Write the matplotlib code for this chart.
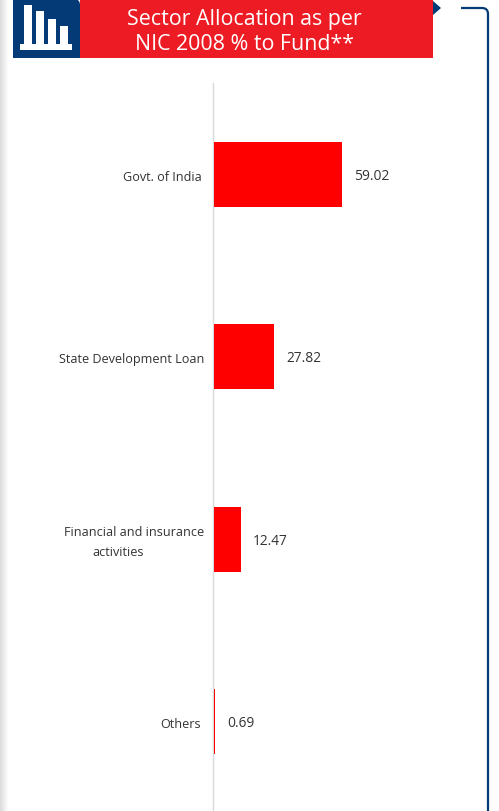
import numpy as np
import matplotlib
matplotlib.use('Agg')
import matplotlib.pyplot as plt
from matplotlib.patches import Rectangle, Polygon, PathPatch
from matplotlib.path import Path

sectors = ['Govt. of India', 'State Development Loan', 'Financial and insurance\nactivities', 'Others']
weights = [59.02, 27.82, 12.47, 0.69]
title_lines = ['Sector Allocation as per', 'NIC 2008 % to Fund**']

W, H = 499, 812
RED = '#ED1C24'
NAVY = '#043A75'

plt.rcParams['font.family'] = ['Open Sans', 'DejaVu Sans']


def draw_header(bg):
    # left page shadow
    shade = np.linspace(0.86, 1, 9).reshape(1, -1)
    bg.imshow(shade, cmap='gray', vmin=0, vmax=1, extent=(0, 9, H, 0), aspect='auto', zorder=0)
    bg.set_xlim(0, W)
    bg.set_ylim(H, 0)

    bg.add_patch(Rectangle((80, 0), 353, 59, fc=RED, ec='none'))
    badge = Path([(13, 0), (74, 0), (80, 0), (80, 6), (80, 59), (13, 59), (13, 0)],
                 [Path.MOVETO, Path.LINETO, Path.CURVE3, Path.CURVE3, Path.LINETO, Path.LINETO, Path.CLOSEPOLY])
    bg.add_patch(PathPatch(badge, fc=NAVY, ec='none'))

    # little bar chart icon
    for x, y in [(24, 6), (36, 12), (48, 20), (60, 27)]:
        bg.add_patch(Rectangle((x, y), 8, 45 - y, fc='white', ec='none'))
    bg.add_patch(Rectangle((20, 45), 52, 6, fc='white', ec='none'))

    bg.add_patch(Polygon([(433, 2), (441, 9), (433, 16)], fc=NAVY, ec='none'))
    bracket = Path([(461, 9), (482, 9), (488, 9), (488, 15), (488, 812)],
                   [Path.MOVETO, Path.LINETO, Path.CURVE3, Path.CURVE3, Path.LINETO])
    bg.add_patch(PathPatch(bracket, fc='none', ec=NAVY, lw=1.6))

    bg.text(244.5, 19.5, title_lines[0], color='white', fontsize=15.4, ha='center', va='center')
    bg.text(244.5, 45, title_lines[1], color='white', fontsize=15.4, ha='center', va='center')


def label(ax, text, y, dx, dy, size=9.1):
    ax.annotate(text, (0, y), xytext=(dx, dy), textcoords='offset pixels',
                fontsize=size, color='#333333', va='center', ha='right')


def plot_sectors(fig):
    # 2.17 px per percent point, 182.5 px per row
    left, width = 214.0 / W, 217.0 / W
    top, bottom = 84.0, 813.0
    ax = fig.add_axes([left, 1 - bottom / H, width, (bottom - top) / H])
    ax.patch.set_alpha(0)
    y = np.arange(len(sectors))
    ax.barh(y, weights, height=0.356, color='#FF0000', zorder=3)
    ax.set_xlim(0, 100)
    ax.set_ylim(3.495, -0.5)
    ax.set_xticks([])
    ax.set_yticks([])
    for side in ['top', 'right', 'bottom']:
        ax.spines[side].set_visible(False)
    ax.spines['left'].set_color('#D9D9D9')
    ax.spines['left'].set_linewidth(1.0)
    ax.spines['left'].set_position(('outward', 0.7))

    for i, val in enumerate(weights):
        ax.annotate(f'{val:.2f}', (val, i), xytext=(12, -1), textcoords='offset pixels',
                    fontsize=9.9, color='#333333', va='center', ha='left')

    first, second = sectors[2].split('\n')
    label(ax, sectors[0], 0, -12, -2)
    label(ax, sectors[1], 1, -10, -2)
    label(ax, first, 2, -10, 8)
    label(ax, second, 2, -70, -12)
    label(ax, sectors[3], 3, -13, -2)


def main():
    fig = plt.figure(figsize=(W / 100, H / 100), dpi=100)
    bg = fig.add_axes([0, 0, 1, 1])
    bg.axis('off')
    draw_header(bg)
    plot_sectors(fig)
    fig.savefig('out.png', dpi=100)


if __name__ == "__main__":
    main()
